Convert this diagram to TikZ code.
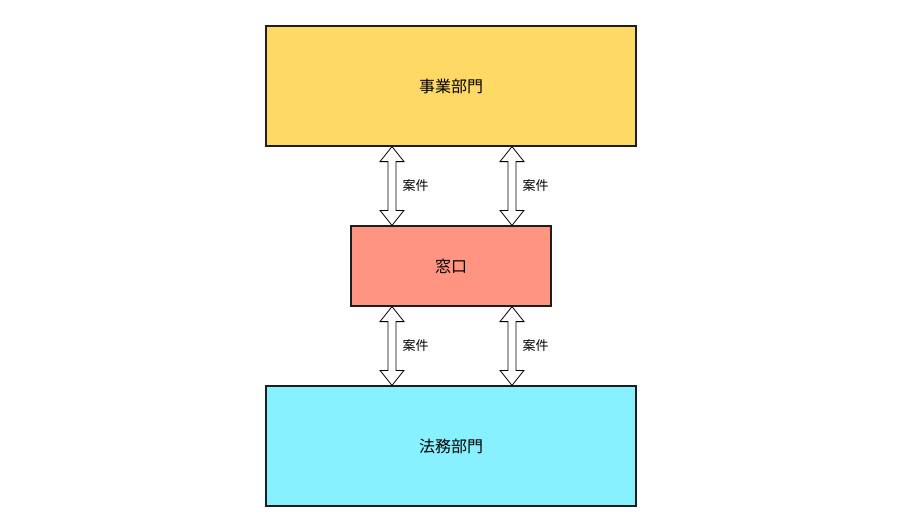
\documentclass[tikz,border=0pt]{standalone}
\usepackage{fontspec}
\setmainfont{Noto Sans CJK JP}
\usetikzlibrary{calc}
\tikzset{every picture/.style={line width=0.75pt}}
\tikzset{
  dept/.style={draw={rgb,255:red,30;green,30;blue,30},line width=1.2pt,minimum width=370pt,minimum height=120pt,font=\fontsize{16}{18}\selectfont},
  desk/.style={draw={rgb,255:red,30;green,30;blue,30},line width=1.2pt,minimum width=200pt,minimum height=80pt,font=\fontsize{16}{18}\selectfont},
  lbl/.style={anchor=west,font=\fontsize{13}{15}\selectfont},
}
\begin{document}
\begin{tikzpicture}[x=1pt,y=1pt,yscale=-1,xscale=1]
\useasboundingbox (0,0) rectangle (902,532);

% Boxes
\node [dept,fill={rgb,255:red,255;green,217;blue,102}] (biz) at (451,86) {事業部門};
\node [desk,fill={rgb,255:red,255;green,148;blue,128}] (desk) at (451,266) {窓口};
\node [dept,fill={rgb,255:red,135;green,241;blue,255}] (legal) at (451,446) {法務部門};

% Double arrows
\foreach \dx/\a/\b [count=\i] in {-59/biz/desk,61/biz/desk,-59/desk/legal,61/desk/legal}{
  \draw [fill=white,line width=0.8pt] let \p1=($(\a.south)+(\dx,0)$), \p2=($(\b.north)+(\dx,0)$) in
    (\x1,\y1) -- (\x1+12,\y1+15) -- (\x1+4,\y1+15) -- (\x1+4,\y2-15) -- (\x1+12,\y2-15) -- (\x1,\y2)
    -- (\x1-12,\y2-15) -- (\x1-4,\y2-15) -- (\x1-4,\y1+15) -- (\x1-12,\y1+15) -- cycle;
  \node [lbl] (case\i) at ($($(\a.south)!0.5!(\b.north)$)+(\dx+7,0)$) {案件};
}

\end{tikzpicture}
\end{document}
